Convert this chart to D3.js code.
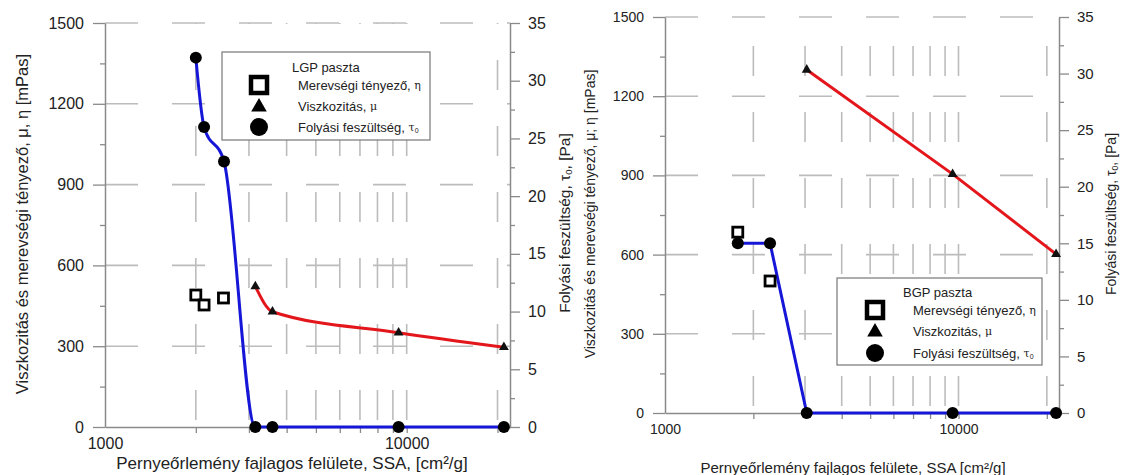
<!DOCTYPE html>
<html>
<head>
<meta charset="utf-8">
<script src="https://cdn.jsdelivr.net/npm/d3@7"></script>
<style>
  body { margin: 0; background: #fff; }
  svg { display: block; font-family: "Liberation Sans", Arial, sans-serif; }
</style>
</head>
<body>
<svg id="chart" width="1124" height="475"></svg>
<script>
// values
const ssaTicks = [1000, 10000];
const ssaMinor = [2000, 3000, 4000, 5000, 6000, 7000, 8000, 9000, 10000, 20000];
const leftTicks = [0, 300, 600, 900, 1200, 1500];
const leftMinor = [150, 450, 750, 1050, 1350];
const rightTicks = [0, 5, 10, 15, 20, 25, 30, 35];
const rightMinor = [2.5, 7.5, 12.5, 17.5, 22.5, 27.5, 32.5];

// LGP paste
const lgpYieldSSA = [2000, 2130, 2480, 3150, 3590, 9400, 21000];
const lgpYield = [32, 26, 23, 0, 0, 0, 0];
const lgpViscSSA = [3150, 3590, 9400, 21000];
const lgpVisc = [522, 428, 350, 296];
const lgpStiffSSA = [2000, 2130, 2470];
const lgpStiff = [490, 453, 479];

// BGP paste
const bgpYieldSSA = [1770, 2280, 3040, 9550, 21500];
const bgpYield = [15, 15, 0, 0, 0];
const bgpViscSSA = [3040, 9550, 21500];
const bgpVisc = [1300, 905, 602];
const bgpStiffSSA = [1770, 2280];
const bgpStiff = [685, 500];

const legendText = ["Merevségi tényező, ", "Viszkozitás, ", "Folyási feszültség, "];
const legendGreek = ["η", "μ", "τ"];
const legendSub = ["", "", "0"];

const BLUE = "#1616d8", RED = "#e3161c", AXIS = "#8a8a8a", GRID = "#bcbcbc";

const svg = d3.select("#chart");

// rotated / plain title with an optional tau-0 subscript part
function title(g, tx, ty, rot, size, before, sub, after) {
  const t = g.append("text")
    .attr("transform", `translate(${tx},${ty}) rotate(${rot})`)
    .attr("text-anchor", "middle")
    .attr("dominant-baseline", "central")
    .attr("font-size", size)
    .attr("fill", "#222")
    .text(before);
  if (sub) {
    t.append("tspan").attr("font-size", size * 0.62).attr("dy", size * 0.25).text(sub);
    t.append("tspan").attr("dy", -size * 0.25).text(after);
  }
  return t;
}

// split a span [a,b] into dash pieces: gap first, then dash, repeated
function dashes(a, b, gap0, dash, period) {
  const out = [];
  for (let s = a + gap0; s < b; s += period) out.push([s, Math.min(s + dash, b)]);
  return out;
}

function drawPanel(p) {
  const g = svg.append("g");
  const x = d3.scaleLog().domain([1000, 22000]).range([p.left, p.right]);
  const yL = d3.scaleLinear().domain([0, 1500]).range([p.bottom, p.top]);
  const yR = d3.scaleLinear().domain([0, 35]).range([p.bottom, p.top]);

  // dashed grid, broken into pieces
  const hSegs = [];
  leftTicks.filter(d => d > 0).forEach(v => {
    dashes(p.left, p.right, 0, 33, 67).forEach(s => hSegs.push({ y: yL(v), a: s[0], b: s[1] }));
  });
  const vSegs = [];
  ssaMinor.forEach(v => {
    dashes(0, p.bottom - p.top, 7, 30, 66).forEach(s => vSegs.push({ x: x(v), a: p.bottom - s[0], b: p.bottom - s[1] }));
  });
  g.append("g").selectAll("line").data(hSegs).join("line")
    .attr("x1", d => d.a).attr("x2", d => d.b).attr("y1", d => d.y).attr("y2", d => d.y)
    .attr("stroke", GRID).attr("stroke-width", 1.6);
  g.append("g").selectAll("line").data(vSegs).join("line")
    .attr("x1", d => d.x).attr("x2", d => d.x).attr("y1", d => d.a).attr("y2", d => d.b)
    .attr("stroke", GRID).attr("stroke-width", 1.6);

  const style = (sel, fs) => {
    sel.select(".domain").attr("stroke", AXIS).attr("stroke-width", 1.5);
    sel.selectAll(".tick line").attr("stroke", AXIS).attr("stroke-width", 1.3);
    sel.selectAll(".tick text").attr("font-size", fs).attr("fill", "#222")
      .attr("font-family", "Liberation Sans, Arial, sans-serif");
  };
  const fmt = d3.format("d");

  g.append("g").attr("transform", `translate(${p.left},0)`)
    .call(d3.axisLeft(yL).tickValues(leftTicks).tickFormat(fmt).tickSize(12).tickSizeOuter(0).tickPadding(9))
    .call(s => style(s, p.leftFont));
  g.append("g").attr("transform", `translate(${p.left},0)`)
    .call(d3.axisLeft(yL).tickValues(leftMinor).tickSize(5).tickFormat(""))
    .call(s => { style(s, 0); s.select(".domain").remove(); });

  g.append("g").attr("transform", `translate(${p.right},0)`)
    .call(d3.axisRight(yR).tickValues(rightTicks).tickFormat(fmt).tickSize(10).tickSizeOuter(0).tickPadding(8))
    .call(s => style(s, p.rightFont));
  g.append("g").attr("transform", `translate(${p.right},0)`)
    .call(d3.axisRight(yR).tickValues(rightMinor).tickSize(5).tickFormat(""))
    .call(s => { style(s, 0); s.select(".domain").remove(); });

  g.append("g").attr("transform", `translate(0,${p.bottom})`)
    .call(d3.axisBottom(x).tickValues(ssaTicks).tickFormat(fmt).tickSize(0).tickSizeOuter(0).tickPadding(11))
    .call(s => style(s, p.xFont));
  g.append("g").attr("transform", `translate(0,${p.bottom})`)
    .call(d3.axisBottom(x).tickValues(ssaMinor).tickSize(6).tickFormat(""))
    .call(s => { style(s, 0); s.select(".domain").remove(); });

  // lines
  const blue = d3.zip(p.yieldSSA, p.yieldVals);
  const red = d3.zip(p.viscSSA, p.viscVals);
  const stiff = d3.zip(p.stiffSSA, p.stiffVals);

  g.append("path").datum(red)
    .attr("d", d3.line().x(d => x(d[0])).y(d => yL(d[1])).curve(p.redCurve))
    .attr("fill", "none").attr("stroke", RED).attr("stroke-width", 3);
  g.append("path").datum(blue)
    .attr("d", d3.line().x(d => x(d[0])).y(d => yR(d[1])).curve(p.blueCurve))
    .attr("fill", "none").attr("stroke", BLUE).attr("stroke-width", 3);

  // markers
  g.append("g").selectAll("path").data(red).join("path")
    .attr("transform", d => `translate(${x(d[0])},${yL(d[1])})`)
    .attr("d", d3.symbol(d3.symbolTriangle, 42)())
    .attr("fill", "#111");
  g.append("g").selectAll("circle").data(blue).join("circle")
    .attr("cx", d => x(d[0])).attr("cy", d => yR(d[1])).attr("r", 6)
    .attr("fill", "#000");
  g.append("g").selectAll("rect").data(stiff).join("rect")
    .attr("x", d => x(d[0]) - 5).attr("y", d => yL(d[1]) - 5)
    .attr("width", 10).attr("height", 10)
    .attr("fill", "#fff").attr("stroke", "#000").attr("stroke-width", 2.8);

  // legend
  const L = p.legend;
  const lg = g.append("g");
  lg.append("rect").attr("x", L.x).attr("y", L.y).attr("width", L.w).attr("height", L.h)
    .attr("fill", "#fff").attr("stroke", "#777").attr("stroke-width", 1.2);
  lg.append("text").attr("x", L.titleX).attr("y", L.titleY)
    .attr("dominant-baseline", "central").attr("font-size", 13).attr("fill", "#222")
    .text(L.title);
  L.rows.forEach((ry, i) => {
    const sx = L.symX;
    if (i === 0) {
      lg.append("rect").attr("x", sx - 8).attr("y", ry - 8).attr("width", 16).attr("height", 16)
        .attr("fill", "#fff").attr("stroke", "#000").attr("stroke-width", 4.5);
    } else if (i === 1) {
      lg.append("path").attr("transform", `translate(${sx},${ry + 1})`)
        .attr("d", d3.symbol(d3.symbolTriangle, 105)()).attr("fill", "#000");
    } else {
      lg.append("circle").attr("cx", sx).attr("cy", ry).attr("r", 9).attr("fill", "#000");
    }
    const t = lg.append("text").attr("x", L.textX).attr("y", ry)
      .attr("dominant-baseline", "central").attr("font-size", 13).attr("fill", "#222")
      .text(legendText[i]);
    t.append("tspan").attr("font-family", "DejaVu Serif, serif").attr("font-size", 11).text(legendGreek[i]);
    if (legendSub[i]) t.append("tspan").attr("font-size", 7).attr("dy", 3).text(legendSub[i]);
  });

  return g;
}

const g1 = drawPanel({
  left: 105, right: 510, top: 23, bottom: 427,
  leftFont: 16, rightFont: 16, xFont: 16,
  yieldSSA: lgpYieldSSA, yieldVals: lgpYield,
  viscSSA: lgpViscSSA, viscVals: lgpVisc,
  stiffSSA: lgpStiffSSA, stiffVals: lgpStiff,
  blueCurve: d3.curveMonotoneX, redCurve: d3.curveMonotoneX,
  legend: { x: 222, y: 52, w: 208, h: 88, title: "LGP paszta", titleX: 292, titleY: 67,
            symX: 259, textX: 298, rows: [85, 106, 127] }
});
title(g1, 22, 224, -90, 16.5, "Viszkozitás és merevségi tényező, μ, η [mPas]");
title(g1, 564, 223, -90, 15.5, "Folyási feszültség, τ", "0", ", [Pa]");
title(g1, 292, 463, 0, 17, "Pernyeőrlemény fajlagos felülete, SSA, [cm²/g]");

const g2 = drawPanel({
  left: 665, right: 1059, top: 17, bottom: 413,
  leftFont: 14, rightFont: 15, xFont: 14,
  yieldSSA: bgpYieldSSA, yieldVals: bgpYield,
  viscSSA: bgpViscSSA, viscVals: bgpVisc,
  stiffSSA: bgpStiffSSA, stiffVals: bgpStiff,
  blueCurve: d3.curveLinear, redCurve: d3.curveLinear,
  legend: { x: 837, y: 278, w: 205, h: 87, title: "BGP paszta", titleX: 903, titleY: 292,
            symX: 875, textX: 913, rows: [310, 331, 353] }
});
title(g2, 590, 214, -90, 14, "Viszkozitás és merevségi tényező, μ; η [mPas]");
title(g2, 1111, 214, -90, 14, "Folyási feszültség, τ", "0", ", [Pa]");
title(g2, 853, 467, 0, 15, "Pernyeőrlemény fajlagos felülete, SSA [cm²/g]");
</script>
</body>
</html>
